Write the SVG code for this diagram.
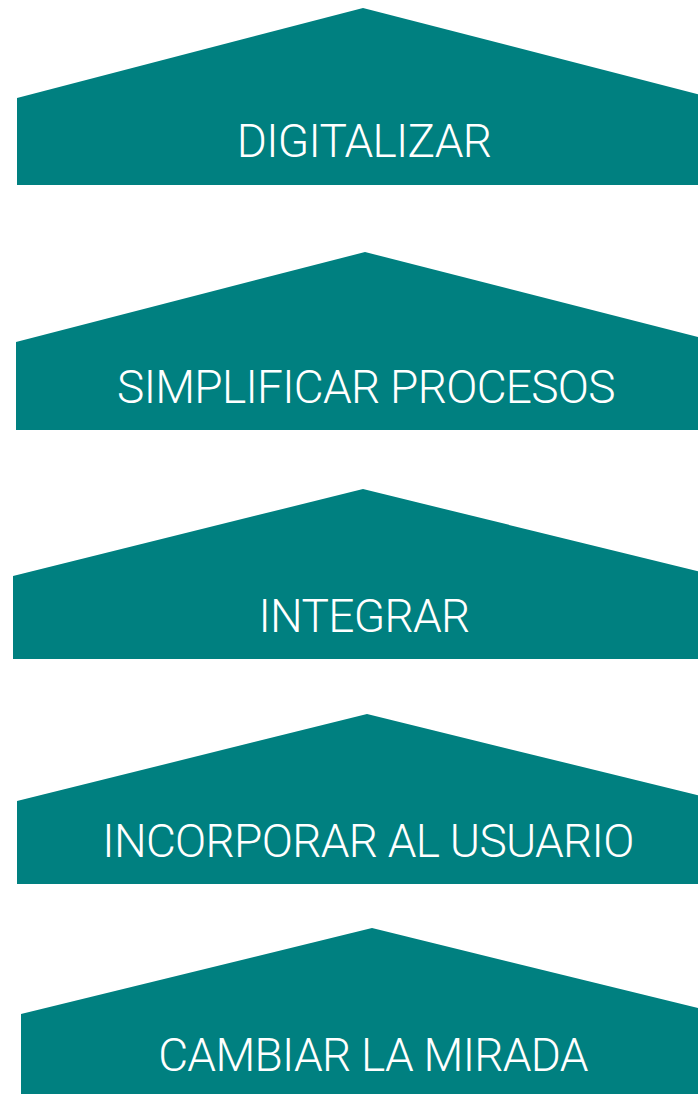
<svg xmlns="http://www.w3.org/2000/svg" width="698" height="1094" viewBox="0 0 698 1094">
<style>
.shape{fill:#008080;}
.lbl{font-family:Roboto,"Liberation Sans",sans-serif;font-weight:300;font-size:46px;fill:#ffffff;text-anchor:middle;letter-spacing:-0.7px;}
</style>
<rect width="698" height="1094" fill="#ffffff"/>
<g id="node1">
<polygon class="shape" points="363,8 709,97 709,185 17,185 17,98"/>
<text class="lbl" x="364" y="157">DIGITALIZAR</text>
</g>
<g id="node2">
<polygon class="shape" points="365,252 714,341 714,430 16,430 16,342"/>
<text class="lbl" x="366" y="403">SIMPLIFICAR PROCESOS</text>
</g>
<g id="node3">
<polygon class="shape" points="363,489 713,575 713,659 13,659 13,576"/>
<text class="lbl" x="364" y="632">INTEGRAR</text>
</g>
<g id="node4">
<polygon class="shape" points="367,714 717,800 717,884 17,884 17,801"/>
<text class="lbl" x="368" y="857">INCORPORAR AL USUARIO</text>
</g>
<g id="node5">
<polygon class="shape" points="372,928 722,1014 722,1100 21,1100 21,1014"/>
<text class="lbl" x="373" y="1071">CAMBIAR LA MIRADA</text>
</g>
<g id="connectors"></g>
</svg>
